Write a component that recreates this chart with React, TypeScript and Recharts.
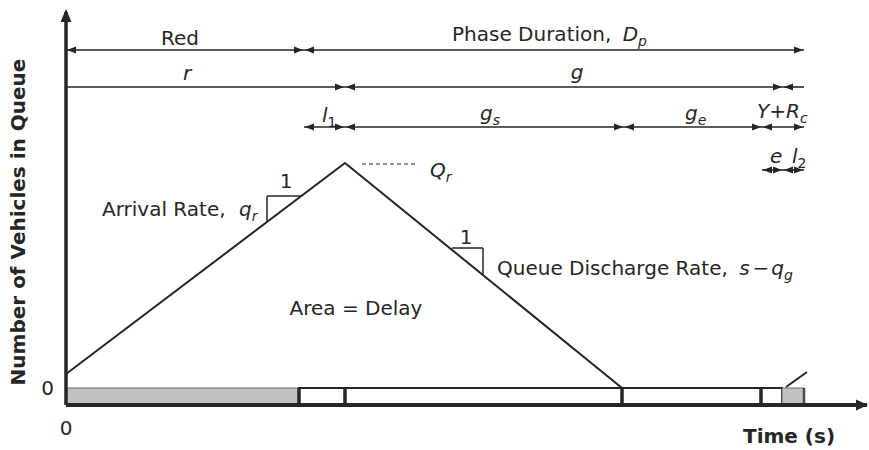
import React from 'react';
import { LineChart, Line, XAxis, YAxis, ReferenceLine, ReferenceArea, ReferenceDot } from 'recharts';

// ---------- axis domains (time in s, queue in veh) ----------
const X_MAX = 80.1;
const Y_MIN = -1.7;
const Y_MAX = 37.6;
const xTicks = [0];
const yTicks = [0];

// ---------- queue polygon ----------
const queueTimes = [0, 27.9, 55.6];
const queueCounts = [1.4, 22.5, 0];
const nextCycleTimes = [72.0, 74.1];
const nextCycleCounts = [0.1, 1.6];

// ---------- signal indication bar ----------
const barStarts = [0, 23.3, 71.6];
const barEnds = [23.3, 71.6, 73.8];
const barKinds = ['red', 'green', 'red'];
const barDividers = [23.3, 27.9, 55.6, 69.5];
const barEndEdge = 73.8;

// ---------- interval dimension rows ----------
const rowLevels = [33.8, 30.1, 26.1, 21.8];
const row1Spans = [[0, 23.8], [23.8, 73.8]];
const row1Heads = ['LR', 'LR'];
const row2Spans = [[0, 27.9], [27.9, 71.7], [71.7, 73.8]];
const row2Heads = ['R', 'LR', 'L'];
const row3Spans = [[23.8, 27.9], [27.9, 55.8], [55.8, 69.6], [69.6, 73.8]];
const row3Heads = ['LR', 'LR', 'LR', 'LR'];
const row4Spans = [[69.6, 71.7], [71.7, 73.8]];
const row4Heads = ['LR', 'LR'];

// ---------- slope triangles ----------
const arrivalTri = { x0: 20.1, x1: 23.5, yTop: 19.2, yBot: 16.6 };
const dischargeTri = { x0: 38.6, x1: 41.7, yTop: 14.0, yBot: 11.3 };
const qrDash = { x0: 29.6, x1: 35.1, y: 22.4 };

const INK = '#262626';
const FONT = "'DejaVu Sans', Verdana, sans-serif";
const FS = 20;

const queueData = queueTimes.map((t, i) => ({ t, q: queueCounts[i] }));
const nextData = nextCycleTimes.map((t, i) => ({ t, q: nextCycleCounts[i] }));

const ArrowShape = (heads: string) => (p: any) => {
  const { x1, y1, x2, y2 } = p;
  const L = 9;
  const W = 3.5;
  return (
    <g>
      <line x1={x1} y1={y1} x2={x2} y2={y2} stroke={INK} strokeWidth={1.6} />
      {heads.includes('L') && (
        <polygon points={`${x1 + 1},${y1} ${x1 + 1 + L},${y1 - W} ${x1 + 1 + L},${y1 + W}`} fill={INK} />
      )}
      {heads.includes('R') && (
        <polygon points={`${x2 - 1},${y2} ${x2 - 1 - L},${y2 - W} ${x2 - 1 - L},${y2 + W}`} fill={INK} />
      )}
    </g>
  );
};

const it = (s: string, dx = 0) => <tspan fontStyle="italic" dx={dx || undefined}>{s}</tspan>;
const sub = (s: string, italic = true) => (
  <tspan fontSize={14} dy={5} fontStyle={italic ? 'italic' : 'normal'}>{s}</tspan>
);

type Lab = { x: number; y: number; anchor: 'start' | 'middle' | 'end'; node: React.ReactNode; bold?: boolean; size?: number; rotate?: boolean };

const labels: Lab[] = [
  { x: 11.4, y: 34.3, anchor: 'middle', node: 'Red' },
  { x: 38.6, y: 34.7, anchor: 'start', node: <>Phase Duration, {it('D', 5)}{sub('p')}</> },
  { x: 12.1, y: 30.8, anchor: 'middle', node: it('r') },
  { x: 51.1, y: 30.9, anchor: 'middle', node: it('g') },
  { x: 25.6, y: 26.6, anchor: 'start', node: <>{it('l')}{sub('1', false)}</> },
  { x: 41.4, y: 26.8, anchor: 'start', node: <>{it('g')}{sub('s')}</> },
  { x: 61.9, y: 26.8, anchor: 'start', node: <>{it('g')}{sub('e')}</> },
  { x: 69.1, y: 27.0, anchor: 'start', node: <>{it('Y')}+{it('R')}{sub('c')}</> },
  { x: 70.4, y: 22.5, anchor: 'start', node: it('e') },
  { x: 72.6, y: 22.5, anchor: 'start', node: <>{it('l')}{sub('2', false)}</> },
  { x: 36.4, y: 21.1, anchor: 'start', node: <>{it('Q')}{sub('r')}</> },
  { x: 22.0, y: 20.0, anchor: 'middle', node: '1' },
  { x: 3.6, y: 17.2, anchor: 'start', node: <>Arrival Rate, {it('q', 7)}{sub('r')}</> },
  { x: 40.0, y: 14.4, anchor: 'middle', node: '1' },
  { x: 43.1, y: 11.3, anchor: 'start', node: <>Queue Discharge Rate, {it('s', 5)}<tspan dx={3}>−</tspan>{it('q', 2)}{sub('g')}</> },
  { x: 29.0, y: 7.3, anchor: 'middle', node: 'Area = Delay' },
  { x: 67.7, y: -5.5, anchor: 'start', node: 'Time (s)', bold: true, size: 20 },
  { x: -4.1, y: 16.6, anchor: 'middle', node: 'Number of Vehicles in Queue', bold: true, size: 20, rotate: true },
];

const TextShape = (l: Lab) => (p: any) => (
  <text
    x={p.cx}
    y={p.cy}
    textAnchor={l.anchor}
    fontFamily={FONT}
    fontSize={l.size ?? FS}
    fontWeight={l.bold ? 'bold' : 'normal'}
    fill={INK}
    transform={l.rotate ? `rotate(-90 ${p.cx} ${p.cy})` : undefined}
  >
    {l.node}
  </text>
);

const UpArrow = (p: any) => (
  <polygon points={`${p.cx},${p.cy - 3} ${p.cx - 5.5},${p.cy + 10} ${p.cx + 5.5},${p.cy + 10}`} fill={INK} />
);
const RightArrow = (p: any) => (
  <polygon points={`${p.cx + 1},${p.cy} ${p.cx - 11},${p.cy - 5.5} ${p.cx - 11},${p.cy + 5.5}`} fill={INK} />
);

const rows = [
  { spans: row1Spans, heads: row1Heads, level: rowLevels[0] },
  { spans: row2Spans, heads: row2Heads, level: rowLevels[1] },
  { spans: row3Spans, heads: row3Heads, level: rowLevels[2] },
  { spans: row4Spans, heads: row4Heads, level: rowLevels[3] },
];

export default function App() {
  return (
    <div style={{ position: 'absolute', left: 0, top: 0, background: '#fff' }}>
      <LineChart width={869} height={450} margin={{ top: 12, right: 2, bottom: 0, left: 0 }}>
        <XAxis
          dataKey="t"
          type="number"
          domain={[0, X_MAX]}
          ticks={xTicks}
          tickLine={false}
          tickSize={0}
          tickMargin={16}
          height={45}
          axisLine={{ stroke: INK, strokeWidth: 4 }}
          tick={{ fill: INK, fontSize: FS, fontFamily: FONT }}
        />
        <YAxis
          type="number"
          domain={[Y_MIN, Y_MAX]}
          ticks={yTicks}
          tickLine={false}
          tickSize={0}
          tickMargin={12}
          width={66}
          axisLine={{ stroke: INK, strokeWidth: 3.5 }}
          tick={{ fill: INK, fontSize: FS, fontFamily: FONT }}
        />

        {barStarts.map((s, i) => (
          <ReferenceArea
            key={`bar${i}`}
            x1={s}
            x2={barEnds[i]}
            y1={Y_MIN}
            y2={0}
            fill={barKinds[i] === 'red' ? '#c1c1c5' : '#ffffff'}
            fillOpacity={1}
            stroke={barKinds[i] === 'red' ? '#6a6a6a' : INK}
            strokeWidth={barKinds[i] === 'red' ? 1 : 2}
            ifOverflow="visible"
          />
        ))}
        {barDividers.map((x, i) => (
          <ReferenceLine
            key={`div${i}`}
            segment={[{ x, y: Y_MIN }, { x, y: 0 }]}
            stroke={INK}
            strokeWidth={3.5}
            ifOverflow="visible"
          />
        ))}
        <ReferenceLine
          segment={[{ x: barEndEdge, y: Y_MIN }, { x: barEndEdge, y: 0 }]}
          stroke="#4a4a4a"
          strokeWidth={2.5}
          ifOverflow="visible"
        />

        <Line data={queueData} dataKey="q" stroke={INK} strokeWidth={2} dot={false} isAnimationActive={false} />
        <Line data={nextData} dataKey="q" stroke={INK} strokeWidth={2} dot={false} isAnimationActive={false} />

        {rows.flatMap((row, ri) =>
          row.spans.map((sp, si) => (
            <ReferenceLine
              key={`row${ri}-${si}`}
              segment={[{ x: sp[0], y: row.level }, { x: sp[1], y: row.level }]}
              shape={ArrowShape(row.heads[si])}
              ifOverflow="visible"
            />
          ))
        )}

        <ReferenceLine
          segment={[{ x: arrivalTri.x0, y: arrivalTri.yBot }, { x: arrivalTri.x0, y: arrivalTri.yTop }]}
          stroke={INK}
          strokeWidth={1.5}
        />
        <ReferenceLine
          segment={[{ x: arrivalTri.x0, y: arrivalTri.yTop }, { x: arrivalTri.x1, y: arrivalTri.yTop }]}
          stroke={INK}
          strokeWidth={1.5}
        />
        <ReferenceLine
          segment={[{ x: dischargeTri.x0, y: dischargeTri.yTop }, { x: dischargeTri.x1, y: dischargeTri.yTop }]}
          stroke={INK}
          strokeWidth={1.5}
        />
        <ReferenceLine
          segment={[{ x: dischargeTri.x1, y: dischargeTri.yTop }, { x: dischargeTri.x1, y: dischargeTri.yBot }]}
          stroke={INK}
          strokeWidth={1.5}
        />
        <ReferenceLine
          segment={[{ x: qrDash.x0, y: qrDash.y }, { x: qrDash.x1, y: qrDash.y }]}
          stroke={INK}
          strokeWidth={1.2}
          strokeDasharray="4 3"
        />

        <ReferenceDot x={0} y={Y_MAX} r={0} shape={UpArrow} ifOverflow="visible" />
        <ReferenceDot x={X_MAX} y={Y_MIN} r={0} shape={RightArrow} ifOverflow="visible" />

        {labels.map((l, i) => (
          <ReferenceDot key={`lab${i}`} x={l.x} y={l.y} r={0} shape={TextShape(l)} ifOverflow="visible" />
        ))}
      </LineChart>
    </div>
  );
}
